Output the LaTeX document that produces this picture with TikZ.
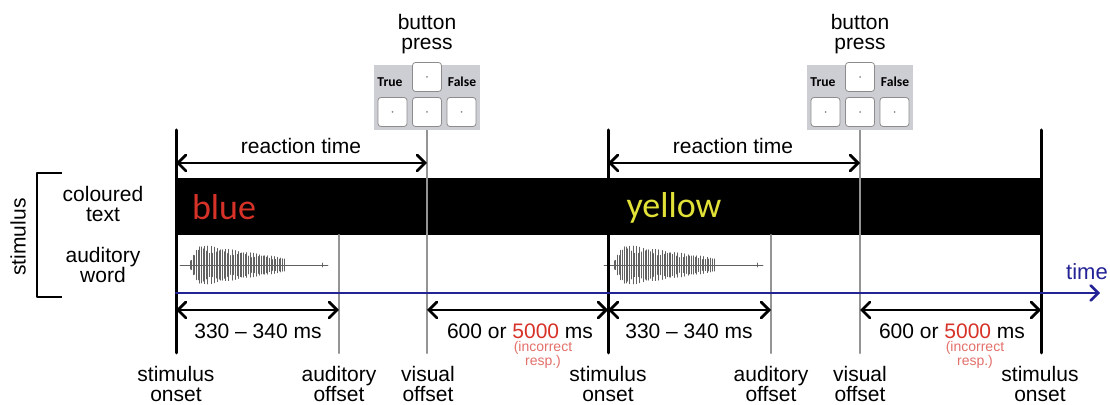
\documentclass[tikz,border=0pt]{standalone}
\usepackage{fontspec}
\setmainfont{Liberation Sans}
\newfontfamily\calfont{Carlito}
\usepackage{tikz}
\usetikzlibrary{arrows}

\definecolor{axisblue}{RGB}{35,35,150}
\definecolor{wordred}{RGB}{215,50,40}
\definecolor{wordyellow}{RGB}{225,225,55}
\definecolor{padgray}{RGB}{205,205,212}
\definecolor{keyedge}{RGB}{140,140,140}

\tikzset{
  lbl/.style={font=\fontsize{10.5}{10}\selectfont, align=center, inner sep=0pt},
  onsetline/.style={line width=1.5pt, black},
  offsetline/.style={line width=1.2pt, black!42},
  span/.style={<->, line width=1.4pt},
  keybox/.style={draw=keyedge, fill=white, rounded corners=1.5pt, minimum width=14.5pt, minimum height=14.5pt, line width=0.4pt, inner sep=0pt},
  padlbl/.style={font=\calfont\bfseries\fontsize{6.8}{7}\selectfont, inner sep=0pt},
  wave/.style={black!62, line width=0.4pt}
}

\begin{document}
\begin{tikzpicture}[line cap=round,line join=round,>=angle 90,x=0.5pt,y=-0.5pt]
\useasboundingbox (0,0) rectangle (1110,405);
% time marks
\coordinate (on1) at (176,0);
\coordinate (aud1) at (339,0);
\coordinate (vis1) at (427,0);
\coordinate (on2) at (608,0);
\coordinate (aud2) at (771,0);
\coordinate (vis2) at (860,0);
\coordinate (on3) at (1041,0);
\coordinate (topY) at (0,130);
\coordinate (rectY) at (0,235);
\coordinate (botY) at (0,353);
\coordinate (rtY) at (0,163);
\coordinate (durY) at (0,310);
\coordinate (axY) at (0,293);
\coordinate (axEnd) at (1100,293);

% stimulus band
\fill[black] (176,178) rectangle (1041,235);

% waveforms
\foreach \xa/\xb/\xc in {190/284/332, 614/714/767} {
  \foreach \k in {0,...,58} {
    \pgfmathsetmacro{\t}{\k/58}
    \pgfmathsetmacro{\xx}{\xa+\t*(\xb-\xa)}
    \pgfmathsetmacro{\amp}{21*min(1,\t/0.12+0.15)*(1-0.72*\t)*(0.55+0.45*abs(cos(\k*97)))}
    \draw[wave] (\xx,264-\amp) -- (\xx,266+\amp);
  }
  \draw[wave] (\xa-10,265) -- (\xc-4,265);
  \draw[wave] (\xc-10,263) -- (\xc-10,267);
}

% vertical marks
\foreach \m in {on1,on2,on3}
  \draw[onsetline] (\m |- topY) -- (\m |- botY);
\foreach \m in {vis1,vis2}
  \draw[offsetline] (\m |- topY) -- (\m |- botY);
\foreach \m in {aud1,aud2}
  \draw[offsetline] (\m |- rectY) -- (\m |- botY);

% time axis
\draw[axisblue, line width=1.3pt, ->] (on1 |- axY) -- (axEnd);
\node[lbl, text=axisblue, font=\fontsize{11}{11}\selectfont] (timelbl) at (1087,272) {time};

% spans
\draw[span] (on1 |- rtY) -- (vis1 |- rtY);
\draw[span] (on2 |- rtY) -- (vis2 |- rtY);
\draw[span] (on1 |- durY) -- (aud1 |- durY);
\draw[span] (vis1 |- durY) -- (on2 |- durY);
\draw[span] (on2 |- durY) -- (aud2 |- durY);
\draw[span] (vis2 |- durY) -- (on3 |- durY);

\node[lbl] (rt1) at (301,146) {reaction time};
\node[lbl] (rt2) at (733,146) {reaction time};
\node[lbl] (dur1) at (258,331) {330 -- 340 ms};
\node[lbl] (dur2) at (689,331) {330 -- 340 ms};
\node[lbl] (iti1) at (520,331) {600 or \textcolor{wordred}{5000} ms};
\node[lbl] (iti2) at (952,331) {600 or \textcolor{wordred}{5000} ms};
\node[lbl, text=wordred!70, font=\fontsize{7}{7.3}\selectfont] (inc1) at (543,355) {(incorrect\\resp.)};
\node[lbl, text=wordred!70, font=\fontsize{7}{7.3}\selectfont] (inc2) at (975,355) {(incorrect\\resp.)};

% coloured words
\node[inner sep=0pt, text=wordred, font=\calfont\fontsize{18}{18}\selectfont] (word1) at (224,207) {blue};
\node[inner sep=0pt, text=wordyellow, font=\calfont\fontsize{18}{18}\selectfont] (word2) at (674,208) {yellow};

% bottom labels
\node[lbl] (on1lbl) at (176,384) {stimulus\\onset};
\node[lbl] (aud1lbl) at (339,384) {auditory\\offset};
\node[lbl] (vis1lbl) at (428,384) {visual\\offset};
\node[lbl] (on2lbl) at (608,384) {stimulus\\onset};
\node[lbl] (aud2lbl) at (771,384) {auditory\\offset};
\node[lbl] (vis2lbl) at (860,384) {visual\\offset};
\node[lbl] (on3lbl) at (1040,384) {stimulus\\onset};

% stimulus bracket
\draw[line width=1.1pt, line cap=butt] (62,173) -- (37,173) -- (37,297) -- (62,297);
\node[lbl, rotate=90] (stimlbl) at (18,237) {stimulus};
\node[lbl] (coltxt) at (103,204) {coloured\\text};
\node[lbl] (audwrd) at (103,265) {auditory\\word};

% button pads
\foreach \m/\n in {vis1/1,vis2/2} {
  \node[lbl] (press\n) at ([yshift=-17pt]\m) {button\\press};
  \fill[padgray] ([xshift=-26.5pt]\m |- topY) rectangle ([xshift=26.5pt,yshift=32.5pt]\m |- topY);
  \node[keybox] (kt\n) at ([yshift=26.5pt]\m |- topY) {};
  \node[keybox] (kl\n) at ([xshift=-17.25pt,yshift=9pt]\m |- topY) {};
  \node[keybox] (kc\n) at ([yshift=9pt]\m |- topY) {};
  \node[keybox] (kr\n) at ([xshift=17.25pt,yshift=9pt]\m |- topY) {};
  \foreach \kk in {kt,kl,kc,kr}
    \fill[black!45] (\kk\n) circle (0.5pt);
  \node[padlbl] (true\n) at ([xshift=-18.5pt,yshift=24pt]\m |- topY) {True};
  \node[padlbl] (false\n) at ([xshift=17.5pt,yshift=24pt]\m |- topY) {False};
}
\end{tikzpicture}
\end{document}
